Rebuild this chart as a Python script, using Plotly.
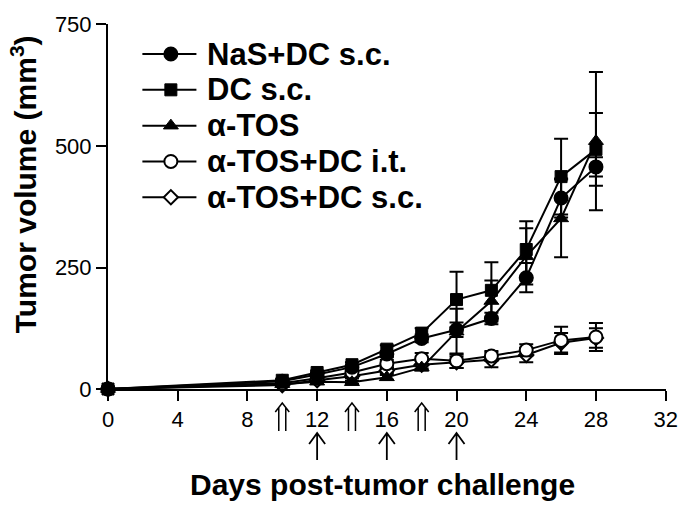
import plotly.graph_objects as go

days = [0, 10, 12, 14, 16, 18, 20, 22, 24, 26, 28]

series_names = ["NaS+DC s.c.", "DC s.c.", "α-TOS", "α-TOS+DC i.t.", "α-TOS+DC s.c."]
nas_dc_sc = [0, 16, 30, 45, 72, 104, 122, 145, 229, 393, 457]
dc_sc = [0, 18, 34, 50, 82, 115, 184, 203, 287, 437, 493]
a_tos = [0, 10, 15, 14, 24, 44, 118, 181, 273, 351, 510]
a_tos_dc_it = [0, 12, 22, 34, 52, 62, 58, 68, 80, 100, 107]
a_tos_dc_sc = [0, 8, 18, 26, 38, 50, 55, 60, 70, 95, 105]

nas_dc_sc_err = [0, 3, 4, 5, 6, 8, 15, 12, 30, 40, 20]
dc_sc_err = [0, 3, 4, 5, 8, 10, 57, 58, 58, 78, 75]
a_tos_err = [0, 2, 3, 3, 5, 6, 47, 42, 58, 80, 142]
a_tos_dc_it_err = [0, 3, 4, 5, 8, 12, 15, 10, 12, 28, 29]
a_tos_dc_sc_err = [0, 2, 3, 4, 5, 8, 12, 15, 15, 20, 20]

x_ticks = [0, 4, 8, 12, 16, 20, 24, 28, 32]
y_ticks = [0, 250, 500, 750]
double_arrow_days = [10, 14, 18]
single_arrow_days = [12, 16, 20]

W, H = 690, 518
ML, MR, MT, MB = 108, 14, 12, 129
PW, PH = W - ML - MR, H - MT - MB

FONT = "Liberation Sans, Arial, sans-serif"

styles = [
    dict(symbol="circle", color="black", line=dict(color="black", width=2)),
    dict(symbol="square", color="black", line=dict(color="black", width=1)),
    dict(symbol="triangle-up", color="black", line=dict(color="black", width=1)),
    dict(symbol="circle", color="white", line=dict(color="black", width=2)),
    dict(symbol="diamond", color="white", line=dict(color="black", width=2)),
]
sizes = [13, 12, 13, 13, 11]

values = [nas_dc_sc, dc_sc, a_tos, a_tos_dc_it, a_tos_dc_sc]
errors = [nas_dc_sc_err, dc_sc_err, a_tos_err, a_tos_dc_it_err, a_tos_dc_sc_err]

fig = go.Figure()
order = [4, 3, 2, 0, 1]
for i in order:
    fig.add_trace(go.Scatter(
        x=days, y=values[i], name=series_names[i], mode="lines+markers",
        line=dict(color="black", width=2),
        marker=dict(size=sizes[i], **styles[i]),
        error_y=dict(type="data", array=errors[i], color="black", thickness=2, width=7),
        cliponaxis=False, showlegend=False,
    ))

# manual legend on an overlay axis measured in pixels (from the plot's bottom-left corner)
row_py = [43, 80, 117, 154, 191]
for i in range(5):
    yy = H - MB - row_py[i]
    fig.add_trace(go.Scatter(
        x=[35, 90], y=[yy, yy], mode="lines", line=dict(color="black", width=2),
        xaxis="x2", yaxis="y2", showlegend=False, hoverinfo="skip"))
    fig.add_trace(go.Scatter(
        x=[64], y=[yy], mode="markers", marker=dict(size=sizes[i], **styles[i]),
        xaxis="x2", yaxis="y2", showlegend=False, hoverinfo="skip"))
    fig.add_annotation(x=99, y=yy, xref="x2", yref="y2", text="<b>%s</b>" % series_names[i],
                       showarrow=False, xanchor="left", yanchor="middle",
                       font=dict(family=FONT, size=31, color="black"))

shapes = []
for d in double_arrow_days:
    shapes.append(dict(type="path", xref="x", yref="paper", xsizemode="pixel", ysizemode="pixel",
                       xanchor=d, yanchor=0,
                       path="M -7,-23 L 0,-14 L 7,-23 M -3.5,-18.5 L -3.5,-42 M 3.5,-18.5 L 3.5,-42",
                       line=dict(color="black", width=1.5)))
for d in single_arrow_days:
    shapes.append(dict(type="path", xref="x", yref="paper", xsizemode="pixel", ysizemode="pixel",
                       xanchor=d, yanchor=0,
                       path="M -8,-55 L 0,-44 L 8,-55 M 0,-44 L 0,-71",
                       line=dict(color="black", width=1.8)))

fig.update_layout(
    width=W, height=H,
    margin=dict(l=ML, r=MR, t=MT, b=MB),
    paper_bgcolor="white", plot_bgcolor="white",
    showlegend=False,
    shapes=shapes,
    xaxis=dict(range=[0, 32.02], tickmode="array", tickvals=x_ticks, showgrid=False, zeroline=False,
               showline=True, linecolor="black", linewidth=2,
               ticks="outside", ticklen=10, tickwidth=2, tickcolor="black",
               tickfont=dict(family=FONT, size=22, color="black")),
    yaxis=dict(range=[0, 751], tickmode="array", tickvals=y_ticks,
               ticktext=[str(v) for v in y_ticks],
               showgrid=False, zeroline=False,
               showline=True, linecolor="black", linewidth=2,
               ticks="outside", ticklen=10, tickwidth=2, tickcolor="black",
               ticklabeloverflow="allow",
               tickfont=dict(family=FONT, size=22, color="black")),
    xaxis2=dict(range=[0, PW], overlaying="x", visible=False),
    yaxis2=dict(range=[0, PH], overlaying="y", visible=False),
)

fig.add_annotation(x=(22 - ML) / PW, y=(H - MB - 178) / PH, xref="paper", yref="paper",
                   text="<b>Tumor volume (mm<sup>3</sup>)</b>",
                   showarrow=False, textangle=-90, xanchor="center", yanchor="middle",
                   font=dict(family=FONT, size=30, color="black"))
fig.add_annotation(x=(387 - ML) / PW, y=(H - MB - 488) / PH, xref="paper", yref="paper",
                   text="<b>Days post-tumor challenge</b>",
                   showarrow=False, xanchor="center", yanchor="middle",
                   font=dict(family=FONT, size=30, color="black"))

fig.write_html("out.html", config={"displayModeBar": False},
               post_script="document.body.style.margin='0px';")
